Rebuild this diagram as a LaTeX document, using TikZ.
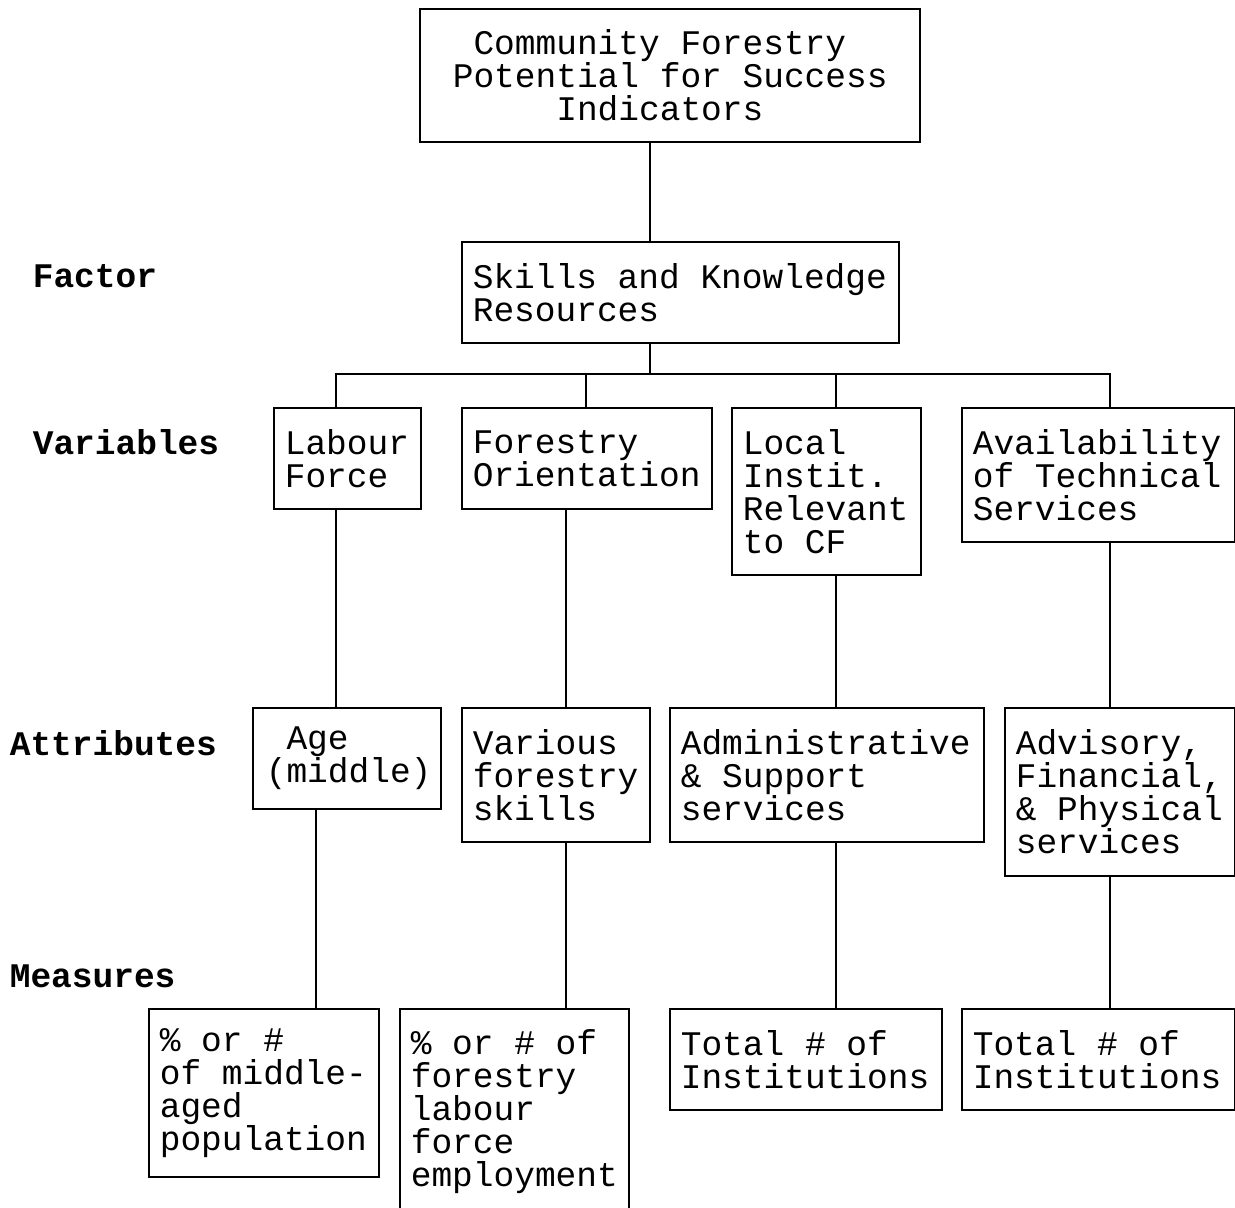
\documentclass[tikz,border=0pt]{standalone}
\usepackage{fontspec}
\newfontfamily\typew{Liberation Mono}
% typewriter spacing: every space one full character cell, no stretch or shrink
\newcommand\cellspace{\frenchspacing\spaceskip=0.6em\relax\xspaceskip=0.6em\relax}
% indent by n character cells
\newcommand\cells[1]{\hspace*{#1\dimexpr 0.6em\relax}}
\begin{document}
\begin{tikzpicture}[x=1pt,y=-1pt,
  line width=1.6pt,
  every node/.style={font=\typew\fontsize{34.5}{33}\selectfont, execute at begin node=\cellspace},
  box/.style={draw, anchor=north west, inner xsep=11pt, inner ysep=0pt, align=left},
  level/.style={anchor=west, inner sep=0pt, font=\typew\bfseries\fontsize{34.5}{33}\selectfont}]
\useasboundingbox (0,0) rectangle (1235,1208);
\fill[white] (0,0) rectangle (1235,1208);

% row labels
\node[level] (lfac) at (32,276) {Factor};
\node[level] (lvar) at (32,442) {Variables};
\node[level] (latt) at (9,743) {Attributes};
\node[level] (lmea) at (9,976) {Measures};

% goal and factor
\node[box, inner xsep=33pt, text width=434pt, minimum height=133pt] (goal) at (419,8)
  {\cells{1}Community Forestry\\\mbox{Potential for Success}\\\cells{5}Indicators};
\node[box, text width=415pt, minimum height=101pt] (skills) at (461,241)
  {Skills and Knowledge\\Resources};

% variables
\node[box, text width=125pt, minimum height=101pt] (labour) at (273,407) {Labour\\Force};
\node[box, text width=228pt, minimum height=101pt] (orient) at (461,407) {Forestry\\Orientation};
\node[box, text width=167pt, minimum height=167pt] (local) at (731,407) {Local\\Instit.\\Relevant\\to CF};
\node[box, text width=251pt, minimum height=134pt] (avail) at (961,407) {Availability\\of Technical\\Services};

% attributes
\node[box, inner xsep=13pt, text width=162pt, minimum height=101pt] (age) at (252,707) {\cells{1}Age\\(middle)};
\node[box, text width=166pt, minimum height=134pt] (skillsv) at (461,707) {Various\\forestry\\skills};
\node[box, text width=292pt, minimum height=134pt] (admin) at (669,707) {Administrative\\\& Support\\services};
\node[box, text width=208pt, minimum height=168pt] (advis) at (1004,707) {Advisory,\\Financial,\\\& Physical\\services};

% measures
\node[box, text width=208pt, minimum height=168pt] (mage) at (148,1008) {\% or \#\\of middle-\\aged\\population};
\node[box, text width=207pt, minimum height=206pt] (memp) at (399,1008) {\% or \# of\\forestry\\labour\\force\\employment};
\node[box, text width=250pt, minimum height=101pt] (minst) at (669,1008) {Total \# of\\Institutions};
\node[box, text width=251pt, minimum height=101pt] (mtech) at (961,1008) {Total \# of\\Institutions};

% connector columns
\coordinate (j) at (650,374);
\coordinate (b1) at (336,374);
\coordinate (b2) at (586,374);
\coordinate (b3) at (836,374);
\coordinate (b4) at (1110,374);
\coordinate (v1) at (336,0);
\coordinate (v2) at (566,0);
\coordinate (v3) at (836,0);
\coordinate (v4) at (1110,0);
\coordinate (a1) at (316,0);

% connectors
\draw (goal.south -| j) -- (skills.north -| j);
\draw (skills.south -| j) -- (j);
\draw (labour.north -| b1) |- (b4) -- (avail.north -| b4);
\draw (b2) -- (orient.north -| b2);
\draw (b3) -- (local.north -| b3);
\draw (labour.south -| v1) -- (age.north -| v1);
\draw (orient.south -| v2) -- (skillsv.north -| v2);
\draw (local.south -| v3) -- (admin.north -| v3);
\draw (avail.south -| v4) -- (advis.north -| v4);
\draw (age.south -| a1) -- (mage.north -| a1);
\draw (skillsv.south -| v2) -- (memp.north -| v2);
\draw (admin.south -| v3) -- (minst.north -| v3);
\draw (advis.south -| v4) -- (mtech.north -| v4);
\end{tikzpicture}
\end{document}
